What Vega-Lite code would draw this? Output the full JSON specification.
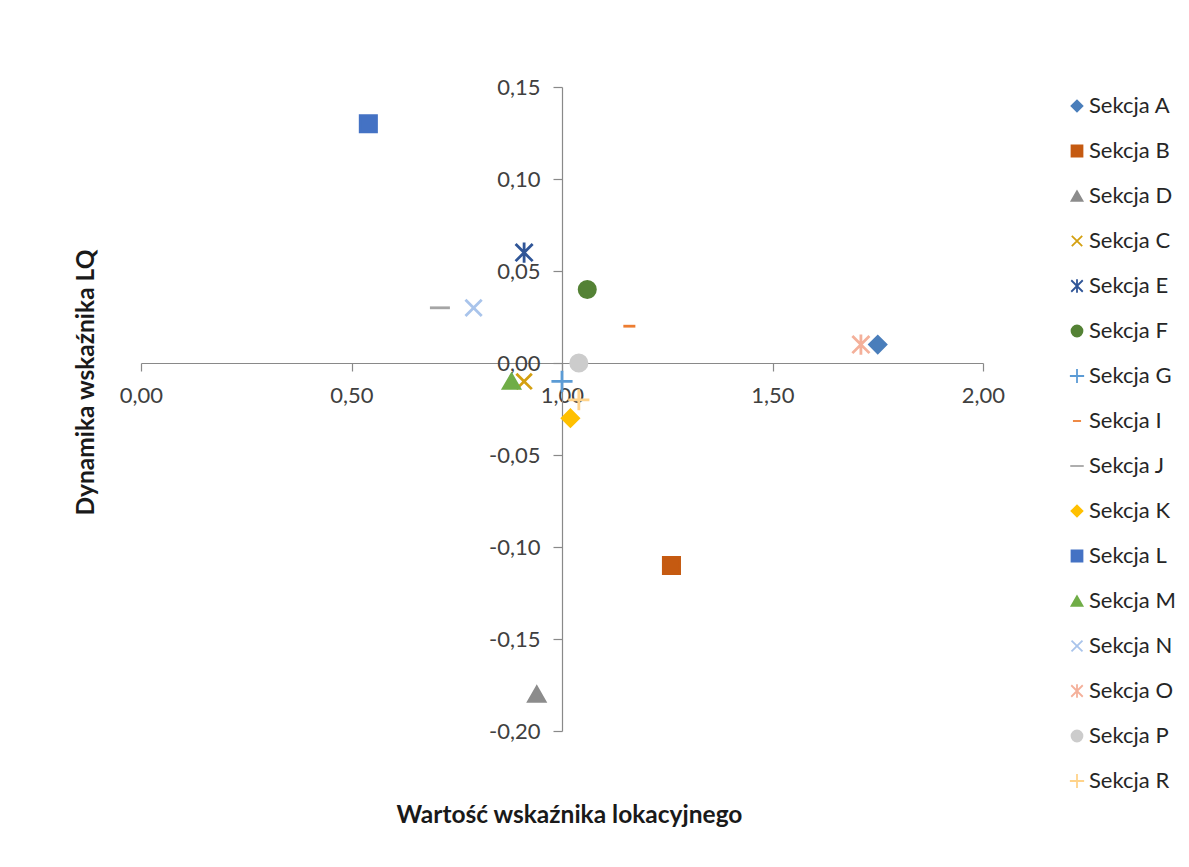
{
  "$schema": "https://vega.github.io/schema/vega-lite/v6.json",
  "width": 842,
  "height": 644,
  "autosize": "none",
  "padding": {"left": 141, "top": 87, "right": 206, "bottom": 136},
  "background": "white",
  "config": {
    "view": {"stroke": null},
    "font": "Lato",
    "locale": {"number": {"decimal": ",", "thousands": " ", "grouping": [3], "currency": ["", " zł"], "minus": "-"}}
  },
  "data": {
    "values": [
      {"sekcja": "Sekcja A", "lq": 1.75, "dyn": 0.01},
      {"sekcja": "Sekcja B", "lq": 1.26, "dyn": -0.11},
      {"sekcja": "Sekcja D", "lq": 0.94, "dyn": -0.18},
      {"sekcja": "Sekcja C", "lq": 0.91, "dyn": -0.01},
      {"sekcja": "Sekcja E", "lq": 0.91, "dyn": 0.06},
      {"sekcja": "Sekcja F", "lq": 1.06, "dyn": 0.04},
      {"sekcja": "Sekcja G", "lq": 1.0, "dyn": -0.01},
      {"sekcja": "Sekcja I", "lq": 1.16, "dyn": 0.02},
      {"sekcja": "Sekcja J", "lq": 0.71, "dyn": 0.03},
      {"sekcja": "Sekcja K", "lq": 1.02, "dyn": -0.03},
      {"sekcja": "Sekcja L", "lq": 0.54, "dyn": 0.13},
      {"sekcja": "Sekcja M", "lq": 0.88, "dyn": -0.01},
      {"sekcja": "Sekcja N", "lq": 0.79, "dyn": 0.03},
      {"sekcja": "Sekcja O", "lq": 1.71, "dyn": 0.01},
      {"sekcja": "Sekcja P", "lq": 1.04, "dyn": 0.0},
      {"sekcja": "Sekcja R", "lq": 1.04, "dyn": -0.02}
    ]
  },
  "mark": {"type": "point", "opacity": 1, "size": 264, "strokeWidth": 2.8, "strokeCap": "butt"},
  "encoding": {
    "x": {
      "field": "lq", "type": "quantitative",
      "scale": {"domain": [0, 2], "nice": false, "zero": false},
      "axis": {
        "orient": "bottom", "offset": -368,
        "values": [0, 0.5, 1, 1.5, 2], "format": ".2f",
        "grid": false, "domainColor": "#898989", "domainWidth": 1.2,
        "tickColor": "#898989", "tickSize": 8, "tickWidth": 1.2,
        "labelFont": "Lato", "labelFontSize": 22, "labelColor": "#404040", "labelPadding": 14,
        "labelFlush": false, "labelOverlap": false, "labelBound": false,
        "title": "Wartość wskaźnika lokacyjnego",
        "titleFont": "Lato", "titleFontSize": 24.5, "titleFontWeight": "bold", "titleColor": "#1a1a1a",
        "titleX": 428, "titleY": 459, "titleAlign": "center", "titleBaseline": "alphabetic"
      }
    },
    "y": {
      "field": "dyn", "type": "quantitative",
      "scale": {"domain": [-0.2, 0.15], "nice": false, "zero": false},
      "axis": {
        "orient": "left", "offset": -421,
        "values": [-0.2, -0.15, -0.1, -0.05, 0, 0.05, 0.1, 0.15], "format": ".2f",
        "grid": false, "domainColor": "#898989", "domainWidth": 1.2,
        "tickColor": "#898989", "tickSize": 9, "tickWidth": 1.2,
        "labelFont": "Lato", "labelFontSize": 22, "labelColor": "#404040", "labelPadding": 13,
        "labelFlush": false, "labelOverlap": false, "labelBound": false,
        "title": "Dynamika wskaźnika LQ",
        "titleFont": "Lato", "titleFontSize": 24.5, "titleFontWeight": "bold", "titleColor": "#1a1a1a",
        "titleX": -469, "titleY": 295, "titleAlign": "center", "titleBaseline": "alphabetic", "titleAngle": -90
      }
    },
    "fill": {
      "field": "sekcja", "type": "nominal",
      "scale": {
        "domain": ["Sekcja A", "Sekcja B", "Sekcja D", "Sekcja C", "Sekcja E", "Sekcja F", "Sekcja G", "Sekcja I", "Sekcja J", "Sekcja K", "Sekcja L", "Sekcja M", "Sekcja N", "Sekcja O", "Sekcja P", "Sekcja R"],
        "range": ["#4a7ebb", "#c55a11", "#8c8c8c", "#d4a010", "#2f5597", "#548235", "#5b9bd5", "#ed7d31", "#a5a5a5", "#ffc000", "#4472c4", "#70ad47", "#a9c4eb", "#f4b09a", "#cccccc", "#ffd38a"]
      },
      "legend": {
        "title": null, "orient": "none", "legendX": 925, "legendY": 8,
        "labelFont": "Lato", "labelFontSize": 22, "labelColor": "#262626", "labelOffset": 1,
        "symbolSize": 120, "symbolStrokeWidth": 1.8, "rowPadding": 23, "padding": 0,
        "symbolOpacity": 1
      }
    },
    "stroke": {
      "field": "sekcja", "type": "nominal",
      "scale": {
        "domain": ["Sekcja A", "Sekcja B", "Sekcja D", "Sekcja C", "Sekcja E", "Sekcja F", "Sekcja G", "Sekcja I", "Sekcja J", "Sekcja K", "Sekcja L", "Sekcja M", "Sekcja N", "Sekcja O", "Sekcja P", "Sekcja R"],
        "range": ["#4a7ebb", "#c55a11", "#8c8c8c", "#d4a010", "#2f5597", "#548235", "#5b9bd5", "#ed7d31", "#a5a5a5", "#ffc000", "#4472c4", "#70ad47", "#a9c4eb", "#f4b09a", "#cccccc", "#ffd38a"]
      },
      "legend": {
        "title": null, "orient": "none", "legendX": 925, "legendY": 8,
        "labelFont": "Lato", "labelFontSize": 22, "labelColor": "#262626", "labelOffset": 1,
        "symbolSize": 120, "symbolStrokeWidth": 1.8, "rowPadding": 23, "padding": 0,
        "symbolOpacity": 1
      }
    },
    "shape": {
      "field": "sekcja", "type": "nominal",
      "scale": {
        "domain": ["Sekcja A", "Sekcja B", "Sekcja D", "Sekcja C", "Sekcja E", "Sekcja F", "Sekcja G", "Sekcja I", "Sekcja J", "Sekcja K", "Sekcja L", "Sekcja M", "Sekcja N", "Sekcja O", "Sekcja P", "Sekcja R"],
        "range": [
          "diamond",
          "square",
          "triangle-up",
          "M-0.95,-0.95L0.95,0.95M-0.95,0.95L0.95,-0.95",
          "M-1.05,-1.05L1.05,1.05M-1.05,1.05L1.05,-1.05M0,-1.25L0,1.25",
          "circle",
          "M-1.3,0L1.3,0M0,-1.3L0,1.3",
          "M-0.74,0L0.74,0",
          "M-1.23,0L1.23,0",
          "diamond",
          "square",
          "triangle-up",
          "M-1,-1L1,1M-1,1L1,-1",
          "M-1.05,-1.05L1.05,1.05M-1.05,1.05L1.05,-1.05M0,-1.25L0,1.25",
          "circle",
          "M-1.3,0L1.3,0M0,-1.3L0,1.3"
        ]
      },
      "legend": {
        "title": null, "orient": "none", "legendX": 925, "legendY": 8,
        "labelFont": "Lato", "labelFontSize": 22, "labelColor": "#262626", "labelOffset": 1,
        "symbolSize": 120, "symbolStrokeWidth": 1.8, "rowPadding": 23, "padding": 0,
        "symbolOpacity": 1
      }
    }
  }
}
